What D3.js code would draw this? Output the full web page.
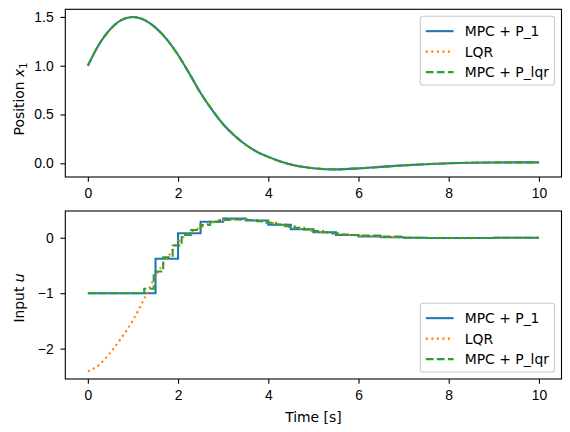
<!DOCTYPE html>
<html>
  <head>
    <meta charset="utf-8">
    <script src="https://cdnjs.cloudflare.com/ajax/libs/d3/7.8.5/d3.min.js"></script>
    <style>
      body { margin: 0; background: #fff; }
      svg { font-family: "DejaVu Sans", sans-serif; }
      .tick text { font-size: 13.9px; fill: #000; }
      .tick line { stroke: #000; stroke-width: 1.1; }
      .frame { fill: none; stroke: #000; stroke-width: 1.1; }
      .legend-box { fill: #fff; fill-opacity: 0.8; stroke: #ccc; stroke-width: 1.1; }
      .legend text, .label { font-size: 13.9px; fill: #000; }
    </style>
  </head>
  <body>
    <svg width="570" height="432"></svg>
    <script>
      // legend names
      var seriesNames = ["MPC + P_1", "LQR", "MPC + P_lqr"];

      // position x1 -- the three controllers lie on top of each other here
      var posTime = [0, 0.25, 0.5, 0.75, 1, 1.25, 1.5, 1.75, 2, 2.25, 2.5, 2.75, 3, 3.25, 3.5, 3.75,
                     4, 4.25, 4.5, 4.75, 5, 5.5, 6, 6.5, 7, 7.5, 8, 8.5, 9, 9.5, 10];
      var posX1 = [1.0, 1.22, 1.375, 1.47, 1.5, 1.47, 1.39, 1.27, 1.11, 0.92, 0.72, 0.55, 0.40, 0.285, 0.19, 0.118,
                   0.066, 0.022, -0.012, -0.035, -0.05, -0.062, -0.052, -0.036, -0.021, -0.009, 0.0, 0.006, 0.009, 0.01, 0.01];

      // input u, MPC + P_1 (held every 0.5 s)
      var uTimeP1 = [0, 0.5, 1, 1.5, 2, 2.5, 3, 3.5, 4, 4.5, 5, 5.5, 6, 6.5, 7, 7.5, 8, 8.5, 9, 9.5, 10];
      var uP1 = [-1, -1, -1, -0.38, 0.08, 0.29, 0.345, 0.31, 0.235, 0.155, 0.10, 0.05, 0.025, 0.01, 0.0,
                 -0.005, -0.005, -0.005, 0.0, 0.0, 0.0];

      // input u, LQR (unconstrained, smooth)
      var uTimeLQR = [0, 0.25, 0.5, 0.75, 1, 1.25, 1.5, 1.75, 2, 2.25, 2.5, 2.75, 3, 3.25, 3.5, 3.75,
                      4, 4.5, 5, 5.5, 6, 6.5, 7, 7.5, 8, 8.5, 9, 9.5, 10];
      var uLQR = [-2.41, -2.29, -2.07, -1.8, -1.49, -1.1, -0.69, -0.38, -0.08, 0.08, 0.19, 0.27, 0.315, 0.33,
                  0.325, 0.31, 0.28, 0.19, 0.12, 0.07, 0.04, 0.02, 0.005, -0.005, -0.008, -0.006, -0.003, 0.0, 0.0];

      // input u, MPC + P_lqr (held per sample)
      var uTimePlqr = [0, 1.25, 1.46, 1.67, 1.88, 2.08, 2.29, 2.5, 2.71, 2.92, 3.13, 3.33, 3.54, 3.75, 3.96,
                       4.17, 4.38, 4.58, 4.79, 5.0, 5.21, 5.42, 5.63, 5.83, 6.04, 6.5, 7, 7.5, 8, 8.5, 9, 9.5, 10];
      var uPlqr = [-1, -0.92, -0.61, -0.35, -0.14, 0.05, 0.14, 0.23, 0.29, 0.32, 0.33, 0.33, 0.32, 0.30, 0.27,
                   0.24, 0.21, 0.18, 0.15, 0.12, 0.10, 0.08, 0.06, 0.05, 0.04, 0.02, 0.0, -0.005, -0.005, -0.005, 0, 0, 0];

      var xTicks = [0, 2, 4, 6, 8, 10];
      var posTicks = [0, 0.5, 1.0, 1.5];
      var uTicks = [-2, -1, 0];

      var colors = ["#1f77b4", "#ff7f0e", "#2ca02c"];
      var dashes = [null, "2.08 3.44", "7.7 3.33"];

      var svg = d3.select("svg");

      function zip(t, v) { return t.map((d, i) => [d, v[i]]); }

      // matplotlib style 5% margins
      function padded(ext) {
        var m = (ext[1] - ext[0]) * 0.05;
        return [ext[0] - m, ext[1] + m];
      }

      function drawPanel(box, series, yTicks, yFmt, legendPos, showXLabel) {
        var all = [].concat(...series.map(s => s.data));
        var x = d3.scaleLinear().domain(padded([0, 10])).range([box.left, box.right]);
        var y = d3.scaleLinear().domain(padded(d3.extent(all, d => d[1]))).range([box.bottom, box.top]);

        var g = svg.append("g");

        g.append("g")
          .attr("transform", "translate(0," + box.bottom + ")")
          .call(d3.axisBottom(x).tickValues(xTicks).tickFormat(d3.format("d")).tickSize(4.86).tickPadding(6.3))
          .call(a => a.select(".domain").remove())
          .call(a => a.selectAll("text").attr("font-family", null).attr("font-size", null));

        g.append("g")
          .attr("transform", "translate(" + box.left + ",0)")
          .call(d3.axisLeft(y).tickValues(yTicks).tickFormat(yFmt).tickSize(4.86).tickPadding(6.8))
          .call(a => a.select(".domain").remove())
          .call(a => a.selectAll("text").attr("font-family", null).attr("font-size", null));

        series.forEach((s, i) => {
          var line = d3.line()
            .x(d => x(d[0]))
            .y(d => y(d[1]))
            .curve(s.step ? d3.curveStepAfter : d3.curveMonotoneX);
          g.append("path")
            .datum(s.data)
            .attr("d", line)
            .attr("fill", "none")
            .attr("stroke", colors[i])
            .attr("stroke-width", 2.08)
            .attr("stroke-dasharray", dashes[i]);
        });

        g.append("rect")
          .attr("class", "frame")
          .attr("x", box.left).attr("y", box.top)
          .attr("width", box.right - box.left).attr("height", box.bottom - box.top);

        // legend
        var fs = 13.9, rowH = 20.5;
        var lg = g.append("g").attr("class", "legend");
        var box2 = lg.append("rect").attr("class", "legend-box").attr("rx", 2.8);
        var texts = seriesNames.map((name, i) =>
          lg.append("text").attr("x", 0).attr("y", 0).text(name));
        var tw = d3.max(texts, t => t.node().getComputedTextLength());
        var lw = 0.4 * fs + 2 * fs + 0.8 * fs + tw + 0.4 * fs;
        var lh = 0.4 * fs * 2 + rowH * 2 + fs * 1.2;
        var lx = box.right - 0.5 * fs - lw;
        var ly = legendPos === "upper" ? box.top + 0.5 * fs : box.bottom - 0.5 * fs - lh;
        box2.attr("x", lx).attr("y", ly).attr("width", lw).attr("height", lh);
        seriesNames.forEach((name, i) => {
          var cy = ly + 0.4 * fs + 0.6 * fs + 1 + i * rowH;
          lg.append("line")
            .attr("x1", lx + 0.4 * fs).attr("x2", lx + 2.4 * fs)
            .attr("y1", cy).attr("y2", cy)
            .attr("stroke", colors[i])
            .attr("stroke-width", 2.08)
            .attr("stroke-dasharray", dashes[i]);
          texts[i].attr("x", lx + 3.2 * fs).attr("y", cy).attr("dy", "0.36em");
        });

        if (showXLabel) {
          g.append("text")
            .attr("class", "label")
            .attr("x", (box.left + box.right) / 2)
            .attr("y", 422)
            .attr("text-anchor", "middle")
            .text("Time [s]");
        }
        return g;
      }

      var topBox = { left: 65.3, right: 561.5, top: 9.3, bottom: 177 };
      var botBox = { left: 65.3, right: 561.5, top: 211, bottom: 379 };

      var posData = zip(posTime, posX1);
      drawPanel(topBox,
        [{ data: posData }, { data: posData }, { data: posData }],
        posTicks, d3.format(".1f"), "upper", false);

      drawPanel(botBox,
        [{ data: zip(uTimeP1, uP1), step: true },
         { data: zip(uTimeLQR, uLQR) },
         { data: zip(uTimePlqr, uPlqr), step: true }],
        uTicks, d3.format("d"), "lower", true);

      // y labels
      var yl1 = svg.append("text").attr("class", "label")
        .attr("transform", "translate(24,99) rotate(-90)")
        .attr("text-anchor", "middle");
      yl1.append("tspan").text("Position ");
      yl1.append("tspan").attr("font-style", "italic").text("x");
      yl1.append("tspan").attr("font-size", "9.7px").attr("dy", "3").text("1");

      var yl2 = svg.append("text").attr("class", "label")
        .attr("transform", "translate(24,298) rotate(-90)")
        .attr("text-anchor", "middle");
      yl2.append("tspan").text("Input ");
      yl2.append("tspan").attr("font-style", "italic").text("u");
    </script>
  </body>
</html>
